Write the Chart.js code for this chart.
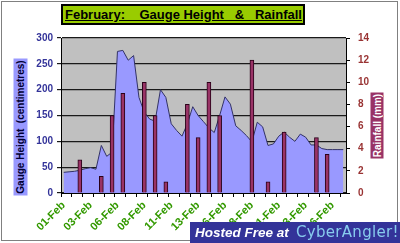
<!DOCTYPE html>
<html>
<head>
<meta charset="utf-8">
<script src="https://cdn.jsdelivr.net/npm/chart.js@4"></script>
<style>
  body { margin: 0; background: #fff; }
  #wrap { position: relative; width: 400px; height: 243px; overflow: hidden; font-family: 'Liberation Sans', Arial, sans-serif; }
  #chart { position: absolute; left: 0; top: 0; }
  .frame { position: absolute; left: 1px; top: 1px; width: 397px; height: 240px; box-sizing: border-box; border: 1px solid #808080; pointer-events: none; }
  .title { position: absolute; left: 61px; top: 4px; width: 244px; height: 21px; box-sizing: border-box; border: 2px solid #000; background: #99cc00;
           font-weight: bold; font-size: 13px; line-height: 17px; padding-left: 2px; white-space: pre; text-decoration: underline; color: #000; }
  .ytitle { position: absolute; font-weight: bold; font-size: 10px; text-align: center; white-space: pre; transform: rotate(-90deg); }
  .left-t { left: -48.5px; top: 119.5px; width: 137px; height: 14px; line-height: 14px; background: #9999ff; color: #000033; }
  .right-t { left: 343.5px; top: 118.5px; width: 66px; height: 13px; line-height: 13px; background: #993366; color: #fff; }
  .banner { position: absolute; left: 190px; top: 222px; width: 210px; height: 21px; background: #333399; white-space: nowrap; line-height: 21px; }
  .banner .h { position: absolute; left: 5px; color: #fff; font-weight: bold; font-style: italic; font-size: 13.5px; }
  .banner .c { position: absolute; left: 106px; color: #88ccee; font-family: 'DejaVu Sans', sans-serif; font-size: 15px; letter-spacing: 0.3px; }
</style>
</head>
<body>
<div id="wrap">
  <canvas id="chart" width="400" height="243"></canvas>
  <div class="frame"></div>
  <div class="title">February:    Gauge Height   &amp;   Rainfall</div>
  <div class="ytitle left-t">Gauge Height  (centimetres)</div>
  <div class="ytitle right-t">Rainfall (mm)</div>
  <div class="banner"><span class="h">Hosted Free at</span><span class="c">CyberAngler!</span></div>
</div>
<script>
// two readings a day through February
const categories = [
  '01-Feb', '01-Feb', '02-Feb', '02-Feb', '03-Feb', '03-Feb', '04-Feb', '04-Feb', '05-Feb', '05-Feb',
  '06-Feb', '06-Feb', '07-Feb', '07-Feb', '08-Feb', '08-Feb', '09-Feb', '09-Feb', '10-Feb', '10-Feb',
  '11-Feb', '11-Feb', '12-Feb', '12-Feb', '13-Feb', '13-Feb', '14-Feb', '14-Feb', '15-Feb', '15-Feb',
  '16-Feb', '16-Feb', '17-Feb', '17-Feb', '18-Feb', '18-Feb', '19-Feb', '19-Feb', '20-Feb', '20-Feb',
  '21-Feb', '21-Feb', '22-Feb', '22-Feb', '23-Feb', '23-Feb', '24-Feb', '24-Feb', '25-Feb', '25-Feb',
  '26-Feb', '26-Feb', '27-Feb'
];

// gauge height (centimetres)
const gaugeHeight = [
  40, 41, 42, 44, 47, 49, 46, 92, 71, 79,
  274, 276, 257, 266, 185, 156, 143, 139, 200, 185,
  134, 121, 110, 134, 167, 150, 138, 126, 117, 150,
  186, 172, 130, 121, 111, 99, 137, 128, 92, 95,
  110, 118, 108, 100, 114, 108, 93, 93, 86, 84,
  84, 84, 84
];

// rainfall (mm)
const rainfall = [
  null, null, null, 3, null, null, null, 1.5, null, 7,
  null, 9, null, null, null, 10, null, 7, null, 1,
  null, null, null, 8, null, 5, null, 10, null, 7,
  null, null, null, null, null, 12, null, null, 1, null,
  null, 5.5, null, null, null, null, null, 5, null, 3.5,
  null, null, null
];

const labelEvery = 5;
const tickEvery = 2;

const tickFont = { family: "'Liberation Sans', Arial, sans-serif", size: 10, weight: 'bold' };

const plotBg = {
  id: 'plotBg',
  beforeDraw(chart) {
    const { ctx, chartArea: a } = chart;
    ctx.save();
    ctx.fillStyle = '#c0c0c0';
    ctx.fillRect(a.left, a.top, a.right - a.left, a.bottom - a.top);
    ctx.restore();
  }
};

const ctx = document.getElementById('chart').getContext('2d');
new Chart(ctx, {
  type: 'bar',
  data: {
    labels: categories,
    datasets: [{
      type: 'bar',
      label: 'Rainfall',
      data: rainfall,
      yAxisID: 'y1',
      backgroundColor: '#993366',
      borderColor: '#2a0018',
      borderWidth: 1,
      barThickness: 4,
      order: 1
    }, {
      type: 'line',
      label: 'Gauge Height',
      data: gaugeHeight,
      yAxisID: 'y',
      borderColor: '#333366',
      borderWidth: 1,
      backgroundColor: '#9999ff',
      fill: 'origin',
      pointRadius: 0,
      tension: 0,
      order: 2
    }]
  },
  options: {
    responsive: false,
    animation: false,
    layout: { padding: { top: 38 } },
    plugins: {
      legend: { display: false },
      tooltip: { enabled: false }
    },
    scales: {
      x: {
        offset: true,
        grid: {
          offset: true,
          drawOnChartArea: false,
          tickLength: 4,
          color: c => (c.index % tickEvery === 0 ? '#000' : 'rgba(0,0,0,0)')
        },
        border: { color: '#000', width: 1 },
        ticks: {
          autoSkip: false,
          minRotation: 45,
          maxRotation: 45,
          padding: 2,
          color: '#339900',
          font: { family: tickFont.family, size: 11, weight: 'bold' },
          callback: (v, i) => (i % labelEvery === 0 ? categories[i] : '')
        },
        afterFit: s => { s.height = 50; }
      },
      y: {
        position: 'left',
        min: 0,
        max: 300,
        ticks: { stepSize: 50, color: '#333399', padding: 4, font: tickFont },
        grid: { color: '#1a1a1a', lineWidth: 1.2, tickLength: 4 },
        border: { color: '#000', width: 1 },
        afterFit: s => { s.width = 61; }
      },
      y1: {
        position: 'right',
        min: 0,
        max: 14,
        ticks: { stepSize: 2, color: '#993333', padding: 8, font: tickFont },
        grid: { drawOnChartArea: false, color: '#000', tickLength: 4 },
        border: { color: '#000', width: 1 },
        afterFit: s => { s.width = 54; }
      }
    }
  },
  plugins: [plotBg]
});
</script>
</body>
</html>
